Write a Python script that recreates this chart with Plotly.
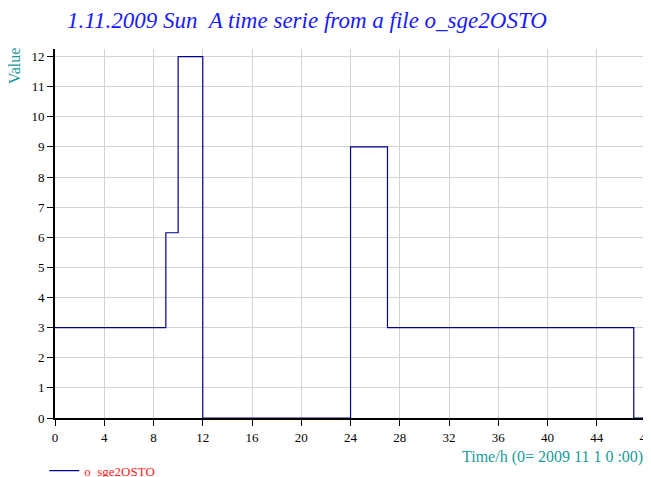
import plotly.graph_objects as go

hours = [0, 9, 10, 12, 24, 27, 47, 48]
values = [3, 6.15, 12, 0, 9, 3, 0, 0]
series_name = "o_sge2OSTO"
title_text = "1.11.2009 Sun  A time serie from a file o_sge2OSTO"
x_title = "Time/h (0= 2009 11 1 0 :00)"
y_title = "Value"

fig = go.Figure()
fig.add_trace(go.Scatter(
    x=hours, y=values, mode="lines", line_shape="hv",
    line=dict(color="#00008B", width=1.2), name=series_name,
    showlegend=True,
))

serif = "Liberation Serif, Times New Roman, serif"
fig.update_layout(
    width=643, height=469,
    margin=dict(l=47, r=0, t=41, b=59, autoexpand=False),
    paper_bgcolor="white", plot_bgcolor="white",
    font=dict(family=serif, size=13, color="black"),
    title=dict(text=title_text, x=0.465, xanchor="center", y=0.974, yanchor="middle",
               font=dict(family=serif, size=23, color="#1a1aff", style="italic")),
    showlegend=True,
    legend=dict(orientation="h", x=-0.018, xanchor="left", y=-0.143, yanchor="middle",
                itemwidth=30, font=dict(family=serif, size=13, color="#ff2020"),
                bgcolor="rgba(0,0,0,0)"),
    xaxis=dict(range=[0, 48.4], tickmode="linear", tick0=0, dtick=4,
               showgrid=True, gridcolor="#d3d3d3", gridwidth=1,
               showline=True, linecolor="black", linewidth=2,
               ticks="outside", ticklen=6, tickcolor="black", tickwidth=1,
               zeroline=False, automargin=False, ticklabeloverflow="allow",
               tickfont=dict(family=serif, size=13, color="black")),
    yaxis=dict(range=[0, 12.25], tickmode="linear", tick0=0, dtick=1,
               showgrid=True, gridcolor="#d3d3d3", gridwidth=1,
               showline=True, linecolor="black", linewidth=2,
               ticks="outside", ticklen=6, tickcolor="black", tickwidth=1,
               zeroline=False, automargin=False,
               tickfont=dict(family=serif, size=13, color="black")),
    annotations=[
        dict(text=x_title, xref="paper", yref="paper", x=0.99, y=-0.105,
             xanchor="right", yanchor="middle", showarrow=False,
             font=dict(family=serif, size=16, color="#1a9a9a")),
        dict(text=y_title, xref="paper", yref="paper", x=-0.067, y=0.954,
             xanchor="center", yanchor="middle", textangle=-90, showarrow=False,
             font=dict(family=serif, size=16, color="#1a9a9a")),
    ],
)

fig.write_html("out.html")
